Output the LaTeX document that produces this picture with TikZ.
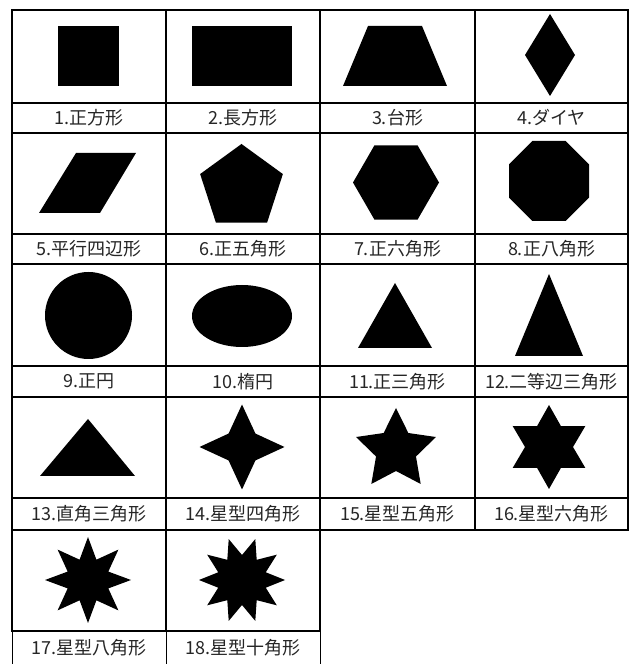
\documentclass[tikz,border=0pt]{standalone}
\usepackage{fontspec}
\setmainfont{Noto Sans CJK JP}

\begin{document}
\begin{tikzpicture}[
  x=1pt, y=1pt,
  lbl/.style={font=\fontsize{18}{18}\selectfont, text=black!85, inner sep=0pt},
  gridline/.style={line width=2pt},
  openline/.style={line width=1pt}
]
  \useasboundingbox[fill=white] (0,0) rectangle (633,664);

  % grid
  \draw[gridline] (12,654) rectangle (628,134);
  \draw[gridline] (12,561) -- (628,561);
  \draw[gridline] (12,531) -- (628,531);
  \draw[gridline] (12,430) -- (628,430);
  \draw[gridline] (12,400) -- (628,400);
  \draw[gridline] (12,298) -- (628,298);
  \draw[gridline] (12,267) -- (628,267);
  \draw[gridline] (12,166) -- (628,166);
  \draw[gridline] (166,654) -- (166,134);
  \draw[gridline] (320,654) -- (320,134);
  \draw[gridline] (475,654) -- (475,134);
  \draw[gridline] (12,134) -- (12,33) -- (320,33) -- (320,134);
  \draw[gridline] (166,134) -- (166,33);
  \draw[openline] (12,33) -- (12,0);
  \draw[openline] (166,33) -- (166,0);
  \draw[openline] (320,33) -- (320,0);

  % row 1
  \fill (58,638) rectangle (119,578);
  \fill (192,638) rectangle (292,578);
  \fill (368,638) -- (422,638) -- (447,578) -- (343,578) -- cycle;
  \fill (550,650) -- (575,609) -- (550,568) -- (525,609) -- cycle;

  % row 2
  \fill (76,511) -- (136,511) -- (100,451) -- (39,451) -- cycle;
  \fill[shift={(241.5,476.5)}] (90:43.5) -- (162:43.5) -- (234:43.5) -- (306:43.5) -- (18:43.5) -- cycle;
  \fill[shift={(396,481.5)}] (0:43) -- (60:43) -- (120:43) -- (180:43) -- (240:43) -- (300:43) -- cycle;
  \fill[shift={(549,483)}] (22.5:43.3) \foreach \a in {67.5,112.5,...,337.5} {-- (\a:43.3)} -- cycle;

  % row 3
  \fill (88.5,348.5) circle[radius=43.5];
  \fill (242,348) ellipse[x radius=50, y radius=31];
  \fill (395,381) -- (432,316) -- (358,316) -- cycle;
  \fill (549,390) -- (583,308) -- (515,308) -- cycle;

  % row 4
  \fill (88,245) -- (135,188) -- (40,188) -- cycle;
  \fill[shift={(242,217)}] (90:42.5) \foreach \i in {1,...,7} {-- ({90+\i*45}:{mod(\i,2)==0 ? 42.5 : 19})} -- cycle;
  \fill[shift={(396,214)}] (90:42) \foreach \i in {1,...,9} {-- ({90+\i*36}:{mod(\i,2)==0 ? 42 : 21})} -- cycle;
  \fill[shift={(549,217)}] (90:42) \foreach \i in {1,...,11} {-- ({90+\i*30}:{mod(\i,2)==0 ? 42 : 24})} -- cycle;

  % row 5
  \fill[shift={(88,84)}] (90:43) \foreach \i in {1,...,15} {-- ({90+\i*22.5}:{mod(\i,2)==0 ? 43 : 22})} -- cycle;
  \fill[shift={(242,84)}] (0:43) \foreach \i in {1,...,19} {-- ({\i*18}:{mod(\i,2)==0 ? 43 : 25})} -- cycle;

  % labels
  \node[lbl] (l1)  at (89,546)    {1.正方形};
  \node[lbl] (l2)  at (243,546)   {2.長方形};
  \node[lbl] (l3)  at (397.5,546) {3.台形};
  \node[lbl] (l4)  at (551.5,546) {4.ダイヤ};
  \node[lbl] (l5)  at (89,415)    {5.平行四辺形};
  \node[lbl] (l6)  at (243,415)   {6.正五角形};
  \node[lbl] (l7)  at (397.5,415) {7.正六角形};
  \node[lbl] (l8)  at (551.5,415) {8.正八角形};
  \node[lbl] (l9)  at (89,282.5)    {9.正円};
  \node[lbl] (l10) at (243,282.5)   {10.楕円};
  \node[lbl] (l11) at (397.5,282.5) {11.正三角形};
  \node[lbl] (l12) at (551.5,282.5) {12.二等辺三角形};
  \node[lbl] (l13) at (89,150)    {13.直角三角形};
  \node[lbl] (l14) at (243,150)   {14.星型四角形};
  \node[lbl] (l15) at (397.5,150) {15.星型五角形};
  \node[lbl] (l16) at (551.5,150) {16.星型六角形};
  \node[lbl] (l17) at (89,16.5)   {17.星型八角形};
  \node[lbl] (l18) at (243,16.5)  {18.星型十角形};
\end{tikzpicture}
\end{document}
